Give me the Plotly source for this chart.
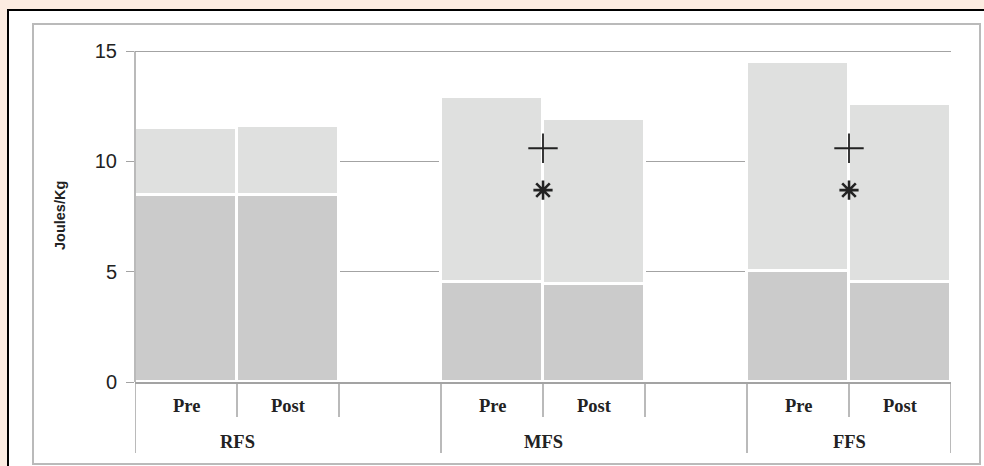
import plotly.graph_objects as go

# ---- data ----
groups = ["RFS", "MFS", "FFS"]
phases = ["Pre", "Post"]
slots_per_group = [3, 3, 2]          # RFS and MFS have an empty spacer slot
lower_vals = [8.47, 8.47, 4.55, 4.45, 5.05, 4.55]   # darker segment
upper_vals = [3.03, 3.13, 8.38, 7.47, 9.44, 8.05]   # lighter segment (stacked)
y_ticks = [0, 5, 10, 15]
sig_groups = ["MFS", "FFS"]
plus_y = [10.6, 10.6]
star_y = [8.7, 8.7]

# ---- derived positions (slot indices) ----
starts = []
s = 0
for n in slots_per_group:
    starts.append(s)
    s += n
total_slots = s
bar_x = [starts[g] + p for g in range(len(groups)) for p in range(len(phases))]

LOW_C = "#cbcbcb"
UP_C = "#dfe0df"
GRID_C = "#a3a3a3"
INK = "#222222"

fig = go.Figure()
fig.add_trace(go.Bar(x=bar_x, y=lower_vals, width=1, marker=dict(color=LOW_C, line=dict(color="white", width=3)),
                     showlegend=False, hoverinfo="skip"))
fig.add_trace(go.Bar(x=bar_x, y=upper_vals, width=1, marker=dict(color=UP_C, line=dict(color="white", width=3)),
                     showlegend=False, hoverinfo="skip"))

sig_x = [starts[groups.index(g)] + 0.5 for g in sig_groups]
fig.add_trace(go.Scatter(x=sig_x, y=plus_y, mode="markers",
                         marker=dict(symbol="cross-thin-open", size=21, color=INK, line=dict(color=INK, width=1.8)),
                         showlegend=False, hoverinfo="skip"))
fig.add_trace(go.Scatter(x=sig_x, y=star_y, mode="markers",
                         marker=dict(symbol="asterisk-open", size=16, color=INK, line=dict(color=INK, width=2.6)),
                         showlegend=False, hoverinfo="skip"))

W, H = 984, 466
L, R, T, B = 135, 33, 49, 84
pw, ph = W - L - R, H - T - B
Y_MAX = 15.1

def px(x):
    return (x - L) / pw

def py(y):
    return (H - B - y) / ph

shapes = []
# outer decoration: peach page, black top/left border, white panel, gray inner box
shapes.append(dict(type="rect", xref="paper", yref="paper", x0=px(8), x1=px(986), y0=py(468), y1=py(10),
                   fillcolor="white", line=dict(width=0), layer="below"))
shapes.append(dict(type="path", xref="paper", yref="paper",
                   path=f"M {px(8)} {py(468)} L {px(8)} {py(10)} L {px(986)} {py(10)}",
                   line=dict(color="black", width=2), layer="below"))
shapes.append(dict(type="rect", xref="paper", yref="paper", x0=px(33), x1=px(980), y0=py(464), y1=py(24),
                   line=dict(color="#bababa", width=2), fillcolor="rgba(0,0,0,0)", layer="below"))

# category dividers below the axis
group_edges = set(starts + [total_slots])
for b in range(total_slots + 1):
    long = b in group_edges
    shapes.append(dict(type="line", xref="x", yref="paper", x0=b - 0.5, x1=b - 0.5,
                       y0=0, y1=py(453 if long else 417),
                       line=dict(color=GRID_C, width=1.5)))

annotations = []
for g, grp in enumerate(groups):
    for p, ph_name in enumerate(phases):
        annotations.append(dict(x=starts[g] + p, y=py(406), xref="x", yref="paper", text=ph_name,
                                showarrow=False, xanchor="center", yanchor="middle",
                                font=dict(family="Liberation Serif", size=18.5, color=INK, weight="bold")))
    annotations.append(dict(x=starts[g] + (len(phases) - 1) / 2, y=py(442), xref="x", yref="paper", text=grp,
                            showarrow=False, xanchor="center", yanchor="middle",
                            font=dict(family="Liberation Serif", size=18.5, color=INK, weight="bold")))
annotations.append(dict(x=px(60), y=py(216), xref="paper", yref="paper", text="Joules/Kg", textangle=-90,
                        showarrow=False, xanchor="center", yanchor="middle",
                        font=dict(family="Liberation Sans", size=14.5, color=INK, weight="bold")))

fig.update_layout(
    width=W, height=H,
    margin=dict(l=L, r=R, t=T, b=B),
    paper_bgcolor="#fcece1",
    plot_bgcolor="white",
    barmode="stack",
    bargap=0,
    shapes=shapes,
    annotations=annotations,
    xaxis=dict(range=[-0.5, total_slots - 0.5], showticklabels=False, showgrid=False, zeroline=False,
               showline=True, linecolor=GRID_C, linewidth=1.5, ticks=""),
    yaxis=dict(range=[0, Y_MAX], tickvals=y_ticks, showgrid=True, gridcolor=GRID_C, gridwidth=1.3,
               zeroline=False, showline=False, linecolor=GRID_C, linewidth=1.5,
               ticks="outside", ticklen=8, tickcolor=GRID_C, tickwidth=1.3,
               tickfont=dict(family="Liberation Sans", size=20, color=INK), ticklabelstandoff=5),
)
# y-axis spine from 0 up to the top tick (15), as in the reference
fig.add_shape(type="line", xref="paper", yref="y", x0=0, x1=0, y0=0, y1=y_ticks[-1],
              line=dict(color=GRID_C, width=1.5))

fig.write_html("out.html", config={"displayModeBar": False},
               post_script="document.body.style.margin='0';document.body.style.padding='0';"
                           "document.body.style.overflow='hidden';")
